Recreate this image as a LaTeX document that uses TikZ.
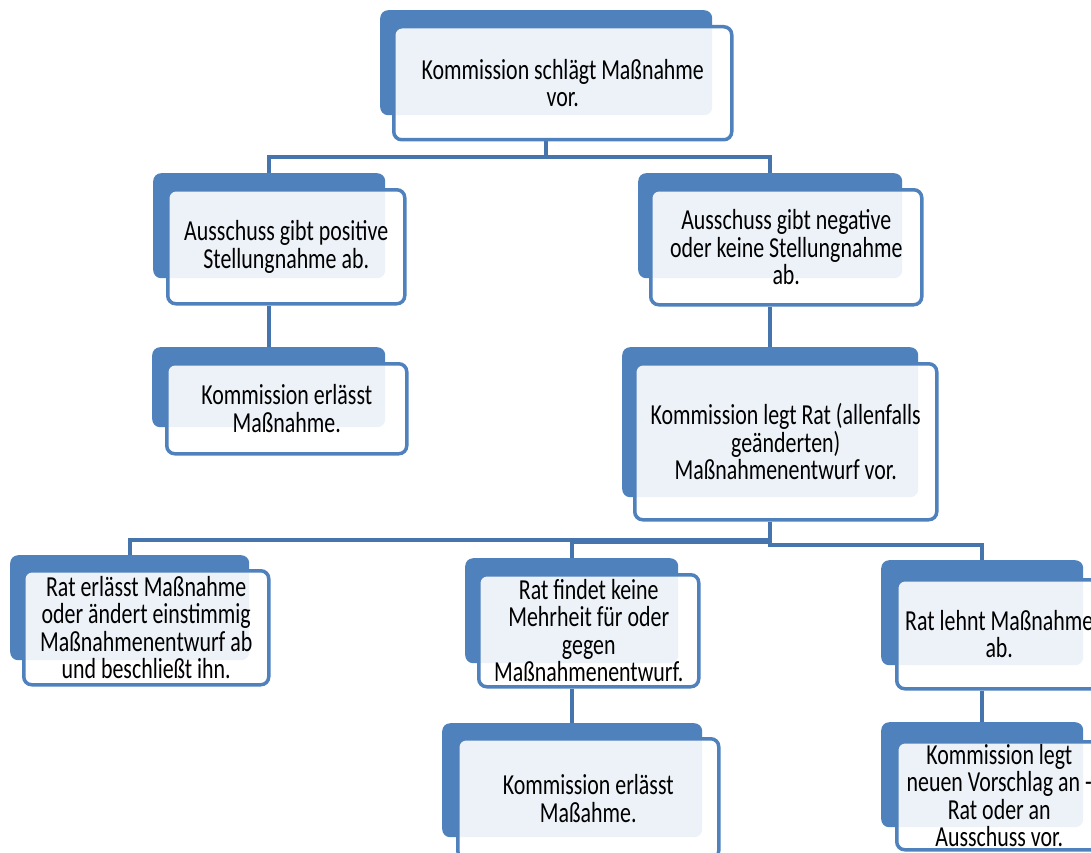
\documentclass[tikz,border=0pt]{standalone}
\usepackage{fontspec}
\setmainfont{Carlito}[FakeStretch=0.755]
\usetikzlibrary{backgrounds}
\definecolor{bluefill}{RGB}{79,129,189}
\definecolor{connblue}{RGB}{70,116,172}
\tikzset{
  backbox/.style={fill=bluefill, draw=none, rounded corners=8pt, anchor=north west, inner sep=0pt},
  frontbox/.style={fill=white, fill opacity=0.9, text opacity=1, draw=bluefill, line width=3.5pt,
    rounded corners=8pt, anchor=north west, align=center, inner sep=0pt,
    font=\fontsize{29}{27.5}\selectfont},
  link/.style={draw=connblue, line width=4pt},
}
\begin{document}
\begin{tikzpicture}[x=1pt,y=-1pt]
\useasboundingbox (0,0) rectangle (1091,853);
\clip (0,0) rectangle (1091,853);
% level 1
\node[backbox, minimum width=332pt, minimum height=105pt] (b1) at (380,10) {};
\node[frontbox, minimum width=338pt, minimum height=113pt] (f1) at (392,25) {Kommission schlägt Maßnahme\\vor.};
% level 2
\node[backbox, minimum width=232pt, minimum height=105pt] (b2) at (153,173) {};
\node[frontbox, minimum width=237pt, minimum height=114pt] (f2) at (166,188) {Ausschuss gibt positive\\Stellungnahme ab.};
\node[backbox, minimum width=264pt, minimum height=105pt] (b4) at (638,173) {};
\node[frontbox, minimum width=271pt, minimum height=115pt] (f4) at (649,188) {Ausschuss gibt negative\\oder keine Stellungnahme\\ab.};
% level 3
\node[backbox, minimum width=233pt, minimum height=80pt] (b3) at (152,347) {};
\node[frontbox, minimum width=240pt, minimum height=90pt] (f3) at (165,362) {Kommission erlässt\\Maßnahme.};
\node[backbox, minimum width=296pt, minimum height=150pt] (b5) at (622,347) {};
\node[frontbox, minimum width=302pt, minimum height=156pt] (f5) at (633,362) {Kommission legt Rat (allenfalls\\geänderten)\\Maßnahmenentwurf vor.};
% level 4
\node[backbox, minimum width=239pt, minimum height=105pt] (b6) at (10,555) {};
\node[frontbox, minimum width=245pt, minimum height=114pt] (f6) at (22,569) {Rat erlässt Maßnahme\\oder ändert einstimmig\\Maßnahmenentwurf ab\\und beschließt ihn.};
\node[backbox, minimum width=213pt, minimum height=105pt] (b7) at (465,558) {};
\node[frontbox, minimum width=220pt, minimum height=112pt] (f7) at (477,573) {Rat findet keine\\Mehrheit für oder\\gegen\\Maßnahmenentwurf.};
\node[backbox, minimum width=202pt, minimum height=105pt] (b9) at (881,560) {};
\node[frontbox, minimum width=205pt, minimum height=109pt] (f9) at (895,578) {Rat lehnt Maßnahme\\ab.};
% level 5
\node[backbox, minimum width=260pt, minimum height=114pt] (b8) at (442,723) {};
\node[frontbox, minimum width=261pt, minimum height=120pt] (f8) at (456,737) {Kommission erlässt\\Maßahme.};
\node[backbox, minimum width=202pt, minimum height=105pt] (b10) at (881,722) {};
\node[frontbox, minimum width=205pt, minimum height=108pt] (f10) at (895,740) {Kommission legt\\neuen Vorschlag an -\\Rat oder an\\Ausschuss vor.};
% connectors
\begin{scope}[on background layer]
\draw[link] (b1.center |- f1.south) -- ++(0,16) -| (b2.north);
\draw[link] (b1.center |- f1.south) -- ++(0,16) -| (b4.north);
\draw[link] (b2.center |- f2.south) -- (b2.center |- b3.north);
\draw[link] (b4.center |- f4.south) -- (b4.center |- b5.north);
\draw[link] (b5.center |- f5.south) -- ++(0,18) -| (b6.north);
\draw[link] (b5.center |- f5.south) -- ++(0,20) -| (b7.north);
\draw[link] (b5.center |- f5.south) -- ++(0,23) -| (b9.north);
\draw[link] (b7.center |- f7.south) -- (b7.center |- b8.north);
\draw[link] (b9.center |- f9.south) -- (b9.center |- b10.north);
\end{scope}
\end{tikzpicture}
\end{document}
